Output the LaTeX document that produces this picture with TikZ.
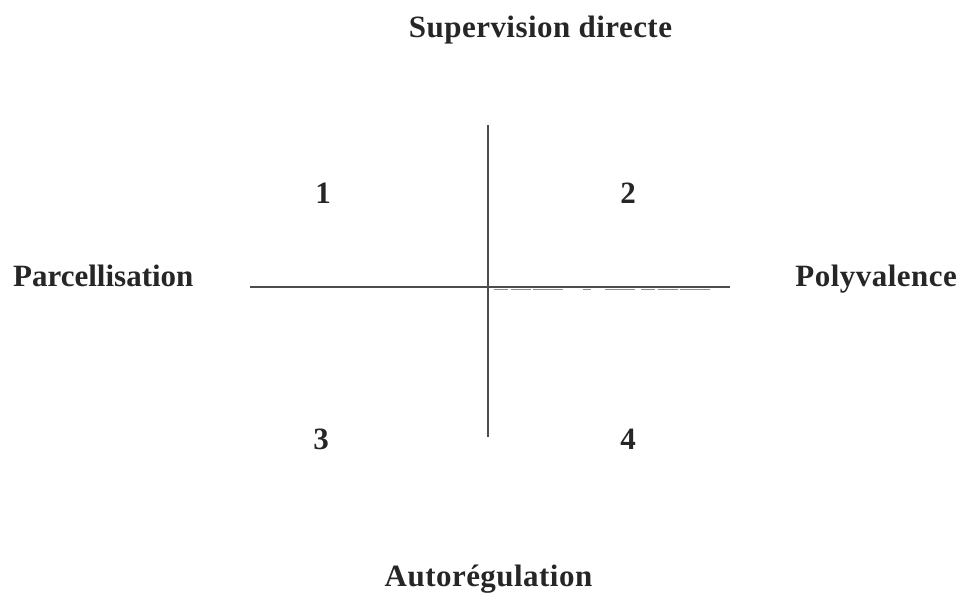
\documentclass[tikz,border=0pt]{standalone}
\usepackage{fontspec}
\setmainfont{Liberation Serif}
\newfontfamily\lblfont[LetterSpace=1.5]{Liberation Serif}
\begin{document}
\begin{tikzpicture}[x=1pt,y=-1pt,
  lbl/.style={font=\lblfont\fontsize{31}{36}\selectfont\bfseries, text=black!85, inner sep=0pt, anchor=base},
  axis/.style={draw=black!70, line width=1.2pt}]
\useasboundingbox (0,0) rectangle (961,592);
\node[lbl] (top) at (540.5,37) {Supervision directe};
\node[lbl] (bot) at (488.5,586) {Autorégulation};
\node[lbl, font=\fontsize{31}{36}\selectfont\bfseries, anchor=base west] (left) at (13,286) {Parcellisation};
\node[lbl, anchor=base east] (right) at (957,286) {Polyvalence};
\node[lbl] (q1) at (323,203) {1};
\node[lbl] (q2) at (628,203) {2};
\node[lbl] (q3) at (321,449) {3};
\node[lbl] (q4) at (628,449) {4};
\coordinate (vt) at (488,125);
\coordinate (vb) at (488,437);
\coordinate (vm) at (488,345);
\coordinate (c) at (488,287);
\coordinate (hl) at (250,287);
\coordinate (hr) at (730,287);
\coordinate (dl) at (494,289);
\coordinate (dr) at (710,289);
\draw[axis] (vt) -- (vb);
\draw[axis, line width=2pt] (c) -- (vm);
\draw[axis] (hl) -- (hr);
\draw[draw=black!45, line width=0.7pt, dash pattern=on 14pt off 3pt on 20pt off 2pt on 30pt off 20pt on 8pt off 14pt on 30pt off 6pt] (dl) -- (dr);
\end{tikzpicture}
\end{document}
